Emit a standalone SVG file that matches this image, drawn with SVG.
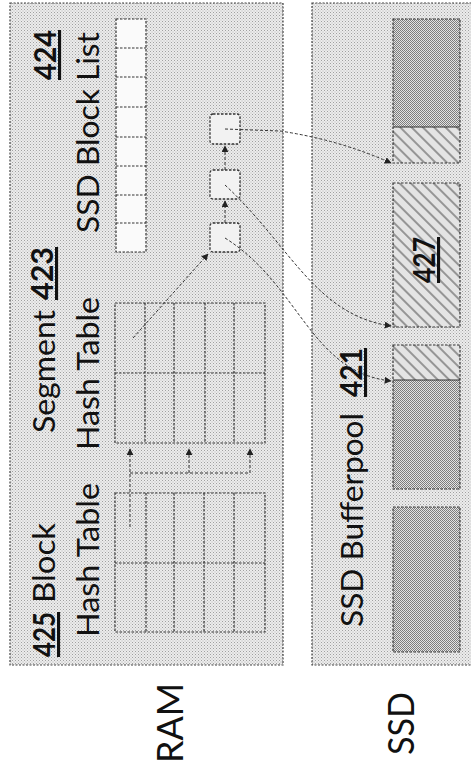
<svg xmlns="http://www.w3.org/2000/svg" width="471" height="772" viewBox="0 0 471 772">
<defs>
<pattern id="halftone" width="3" height="3" patternUnits="userSpaceOnUse">
<rect width="3" height="3" fill="#ececec"/>
<rect x="0" y="0" width="1" height="1" fill="#a0a0a0"/>
<rect x="1.5" y="1.5" width="1" height="1" fill="#b4b4b4"/>
</pattern>
<pattern id="dense" width="2" height="2" patternUnits="userSpaceOnUse">
<rect width="2" height="2" fill="#e2e2e2"/>
<rect x="0" y="0" width="1" height="1" fill="#7a7a7a"/>
<rect x="1" y="1" width="1" height="1" fill="#808080"/>
</pattern>
<pattern id="hatch" width="8" height="8" patternUnits="userSpaceOnUse" patternTransform="rotate(-45)">
<rect width="8" height="8" fill="#e4e4e4"/>
<line x1="1" y1="0" x2="1" y2="8" stroke="#555" stroke-width="1.1"/>
</pattern>
<marker id="arr" viewBox="0 0 10 10" refX="9" refY="5" markerWidth="7" markerHeight="7" markerUnits="userSpaceOnUse" orient="auto">
<path d="M0,0 L10,5 L0,10 z" fill="#222"/>
</marker>
<style>
.panel{fill:url(#halftone);stroke:#444;stroke-width:1.2;stroke-dasharray:2 1.5}
.grid{fill:none;stroke:#333;stroke-width:1.2;stroke-dasharray:2.5 1.5}
.cell{fill:#fafafa;stroke:#333;stroke-width:1.2;stroke-dasharray:2.5 1.5}
.box{fill:#f2f2f2;stroke:#333;stroke-width:1.3;stroke-dasharray:2.5 1.5}
.conn{fill:none;stroke:#333;stroke-width:1;stroke-dasharray:3 2}
.blk{stroke:#333;stroke-width:1.2;stroke-dasharray:2.5 1.5}
.t{font-family:Lato,"Open Sans",sans-serif;font-size:31px;fill:#111}
.big{font-family:Lato,"Open Sans",sans-serif;font-size:36px;fill:#111}
.num{font-weight:bold;text-decoration:underline}
</style>
</defs>
<rect width="471" height="772" fill="#ffffff"/>

<g id="ram-panel">
<rect class="panel" x="10" y="3" width="273" height="662"/>
</g>
<g id="ssd-panel">
<rect class="panel" x="312" y="3" width="170" height="662"/>
</g>

<g id="block-hash-table">
<rect class="grid" x="115" y="493" width="150" height="139"/>
<path class="grid" d="M146,493V632M174,493V632M204,493V632M234,493V632M115,563H265"/>
</g>

<g id="segment-hash-table">
<rect class="grid" x="115" y="303" width="150" height="140"/>
<path class="grid" d="M145,303V443M174,303V443M205,303V443M234,303V443M115,373H265"/>
</g>

<g id="ssd-block-list">
<rect class="cell" x="116" y="19" width="30" height="233"/>
<path class="grid" d="M116,48H146M116,77H146M116,107H146M116,137H146M116,166H146M116,195H146M116,223H146"/>
</g>

<g id="chain-box-a"><rect class="box" x="210" y="223" width="30" height="29" rx="3"/></g>
<g id="chain-box-b"><rect class="box" x="210" y="170" width="30" height="29" rx="3"/></g>
<g id="chain-box-c"><rect class="box" x="210" y="114" width="30" height="30" rx="3"/></g>

<g id="ssd-block-1">
<rect x="393" y="19" width="67" height="108" fill="url(#dense)"/>
<rect x="393" y="127" width="67" height="36" fill="url(#hatch)"/>
<rect class="blk" x="393" y="19" width="67" height="144" fill="none"/>
<line x1="393" y1="127" x2="460" y2="127" stroke="#333" stroke-width="1.2"/>
</g>
<g id="ssd-block-427">
<rect class="blk" x="393" y="183" width="67" height="144" fill="url(#hatch)"/>
</g>
<g id="ssd-block-3">
<rect x="393" y="345" width="67" height="35" fill="url(#hatch)"/>
<rect x="393" y="380" width="67" height="109" fill="url(#dense)"/>
<rect class="blk" x="393" y="345" width="67" height="144" fill="none"/>
<line x1="393" y1="380" x2="460" y2="380" stroke="#333" stroke-width="1.2"/>
</g>
<g id="ssd-block-4">
<rect class="blk" x="393" y="507" width="67" height="145" fill="url(#dense)"/>
</g>

<g id="connectors">
<path class="conn" d="M130,527V449" marker-end="url(#arr)"/>
<path class="conn" d="M130,473H250"/>
<path class="conn" d="M189,473V449" marker-end="url(#arr)"/>
<path class="conn" d="M250,473V449" marker-end="url(#arr)"/>
<path class="conn" d="M133,338L208,254" marker-end="url(#arr)"/>
<path class="conn" d="M225,223V201" marker-end="url(#arr)"/>
<path class="conn" d="M225,170V146" marker-end="url(#arr)"/>
<path class="conn" d="M225,129L280,131Q340,140 391,163" marker-end="url(#arr)"/>
<path class="conn" d="M225,185C290,245 315,315 391,326" marker-end="url(#arr)"/>
<path class="conn" d="M225,238C300,285 310,372 391,381" marker-end="url(#arr)"/>
</g>

<g id="labels">
<text class="t" transform="translate(55,657) rotate(-90)"><tspan class="num" textLength="45" lengthAdjust="spacingAndGlyphs">425</tspan></text>
<text class="t" transform="translate(55,603) rotate(-90)" textLength="80" lengthAdjust="spacingAndGlyphs">Block</text>
<text class="t" transform="translate(99,637) rotate(-90)" textLength="154" lengthAdjust="spacingAndGlyphs">Hash Table</text>
<text class="t" transform="translate(55,433) rotate(-90)" textLength="123" lengthAdjust="spacingAndGlyphs">Segment</text>
<text class="t" transform="translate(53,300) rotate(-90)"><tspan class="num" textLength="53" lengthAdjust="spacingAndGlyphs">423</tspan></text>
<text class="t" transform="translate(99,450) rotate(-90)" textLength="153" lengthAdjust="spacingAndGlyphs">Hash Table</text>
<text class="t" transform="translate(99,233) rotate(-90)" textLength="201" lengthAdjust="spacingAndGlyphs">SSD Block List</text>
<text class="t" transform="translate(56,80) rotate(-90)"><tspan class="num" textLength="50" lengthAdjust="spacingAndGlyphs">424</tspan></text>
<text class="t" transform="translate(363,627) rotate(-90)" textLength="214" lengthAdjust="spacingAndGlyphs">SSD Bufferpool</text>
<text class="t" transform="translate(362,397) rotate(-90)"><tspan class="num" textLength="49" lengthAdjust="spacingAndGlyphs">421</tspan></text>
<text class="t" transform="translate(435,283) rotate(-90)"><tspan class="num" textLength="46" lengthAdjust="spacingAndGlyphs">427</tspan></text>
<text class="big" transform="translate(183,763) rotate(-90)" textLength="80" lengthAdjust="spacingAndGlyphs">RAM</text>
<text class="big" transform="translate(414,755) rotate(-90)" textLength="63" lengthAdjust="spacingAndGlyphs">SSD</text>
</g>
</svg>
